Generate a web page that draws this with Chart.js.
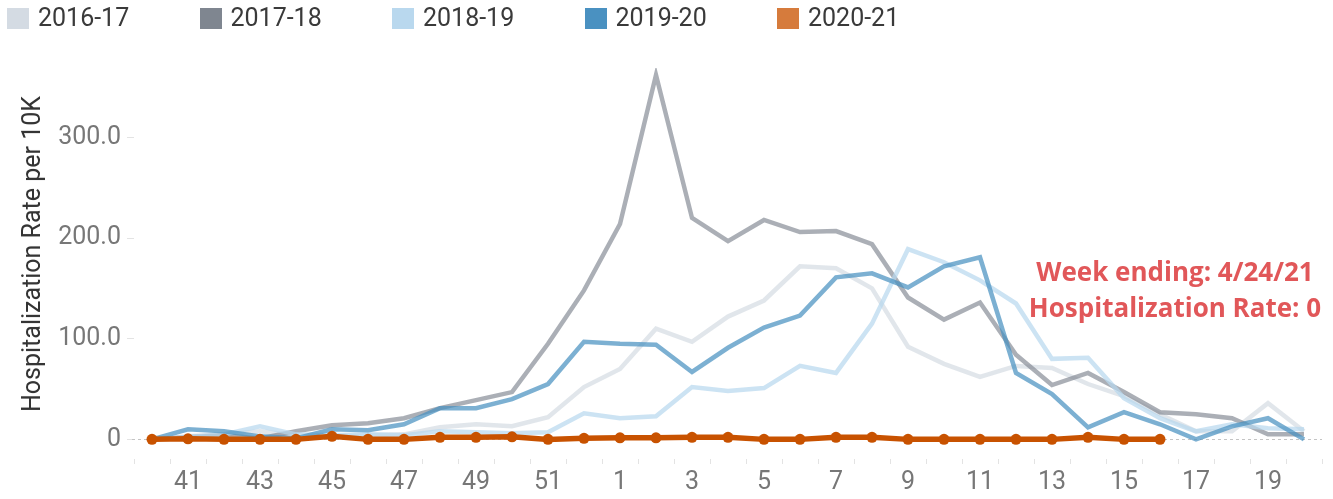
<!DOCTYPE html>
<html>
<head>
<meta charset="utf-8">
<script src="https://cdn.jsdelivr.net/npm/chart.js@4.4.1/dist/chart.umd.min.js"></script>
<style>
  html, body { margin: 0; padding: 0; background: #fff; }
  #wrap { position: relative; width: 1333px; height: 499px; overflow: hidden; }
  canvas { position: absolute; left: 0; top: 0; }
  #legend { position: absolute; left: 7px; top: 7px; display: flex; }
  .item { width: 192.5px; display: flex; align-items: center; height: 22px; }
  .sw { width: 22px; height: 21px; margin-right: 9px; flex: none; }
  .lt { font-family: Roboto, sans-serif; font-size: 25px; color: #3a3a3a; line-height: 22px; }
  #note { position: absolute; left: 975px; width: 400px; top: 253px; text-align: center;
          font-family: "Open Sans", sans-serif; font-weight: bold; font-size: 26px; line-height: 36px; color: #e15759; }
  #ytitle { position: absolute; left: 32px; top: 254px; transform: translate(-50%, -50%) rotate(-90deg);
            white-space: nowrap; font-family: Roboto, sans-serif; font-size: 25px; color: #333; line-height: 30px; }
</style>
</head>
<body>
<div id="wrap">
  <canvas id="c" width="1333" height="499"></canvas>
  <div id="legend"></div>
  <div id="ytitle">Hospitalization Rate per 10K</div>
  <div id="note">Week ending: 4/24/21<br>Hospitalization Rate: 0</div>
</div>
<script>
// Weeks (MMWR week numbers, season order)
const weeks = [40,41,42,43,44,45,46,47,48,49,50,51,52,1,2,3,4,5,6,7,8,9,10,11,12,13,14,15,16,17,18,19,20];
const seasons = ['2016-17','2017-18','2018-19','2019-20','2020-21'];
const legendColors = ['#d4dbe3','#7f8690','#b9d8ee','#4a91c1','#d67b3c'];
const yTicks = [0,100,200,300];

const s1617 = [0,3,5,8,4,3,4,5,12,15,13,22,52,70,110,97,122,138,172,170,150,92,75,62,73,71,55,43,25,8,8,36,8];
const s1718 = [0,2,4,1,8,14,16,21,31,39,47,95,148,214,362,220,197,218,206,207,194,141,119,136,84,54,66,47,27,25,21,5,5];
const s1819 = [0,2,5,13,5,4,5,4,8,7,6,7,26,21,23,52,48,51,73,66,115,189,176,158,135,80,81,41,21,8,15,11,10];
const s1920 = [0,10,8,3,1,10,9,15,31,31,40,55,97,95,94,67,91,111,123,161,165,151,172,181,66,45,12,27,15,0,13,21,0];
const s2021 = [0,0.5,0,0,0,3,0,0,2,2,2.5,0,1,1.5,1.5,2,2,0,0,2,2,0,0,0,0,0,2,0,0,null,null,null,null];

// legend
const lg = document.getElementById('legend');
seasons.forEach((s, i) => {
  const d = document.createElement('div'); d.className = 'item';
  d.innerHTML = '<span class="sw" style="background:' + legendColors[i] + '"></span><span class="lt">' + s + '</span>';
  lg.appendChild(d);
});

const zeroLine = {
  id: 'zeroLine',
  beforeDatasetsDraw(chart) {
    const {ctx, chartArea, scales} = chart;
    const y = Math.round(scales.y.getPixelForValue(0)) + 0.5;
    ctx.save();
    ctx.strokeStyle = '#c4c4c4';
    ctx.lineWidth = 1;
    ctx.setLineDash([3, 3]);
    ctx.beginPath();
    ctx.moveTo(chartArea.left - 2, y);
    ctx.lineTo(chartArea.right, y);
    ctx.stroke();
    ctx.restore();
  }
};

const line = (label, data, color, order, extra) => Object.assign({
  label, data, borderColor: color, backgroundColor: color, borderWidth: 4.5,
  pointRadius: 0, tension: 0, order, borderJoinStyle: 'miter', spanGaps: false
}, extra || {});

new Chart(document.getElementById('c'), {
  type: 'line',
  data: {
    labels: weeks.map(String),
    datasets: [
      line('2020-21', s2021, '#c85200', 0, {pointRadius: 5.5, pointBackgroundColor: '#c85200', pointBorderWidth: 0, pointHoverRadius: 5.5, borderWidth: 5.5}),
      line('2019-20', s1920, 'rgba(74,145,193,0.72)', 1),
      line('2018-19', s1819, 'rgba(185,216,238,0.72)', 2),
      line('2017-18', s1718, 'rgba(127,134,144,0.66)', 3),
      line('2016-17', s1617, 'rgba(212,219,227,0.7)', 4)
    ]
  },
  options: {
    responsive: false,
    animation: false,
    events: [],
    layout: { padding: { top: 68, right: 11, left: 0, bottom: 0 } },
    plugins: { legend: { display: false }, tooltip: { enabled: false } },
    scales: {
      x: {
        type: 'category',
        offset: true,
        grid: { offset: true, drawOnChartArea: false, drawTicks: true, tickLength: 5, color: '#e3e3e3' },
        border: { display: false },
        ticks: {
          autoSkip: false, maxRotation: 0, minRotation: 0, padding: 4, color: '#777',
          font: { family: 'Roboto', size: 25 },
          callback: (v, i) => (weeks[i] % 2 === 1 ? String(weeks[i]) : '')
        },
        afterFit: s => { s.height = 40; }
      },
      y: {
        min: -19.5, max: 369,
        afterBuildTicks: s => { s.ticks = yTicks.map(v => ({ value: v })); },
        grid: { drawOnChartArea: false, drawTicks: true, tickLength: 7, color: '#e3e3e3' },
        border: { display: false },
        ticks: {
          padding: 6, color: '#777', font: { family: 'Roboto', size: 25 },
          callback: v => (v === 0 ? '0' : v.toFixed(1))
        },
        afterFit: s => { s.width = 134; }
      }
    }
  },
  plugins: [zeroLine]
});
</script>
</body>
</html>
